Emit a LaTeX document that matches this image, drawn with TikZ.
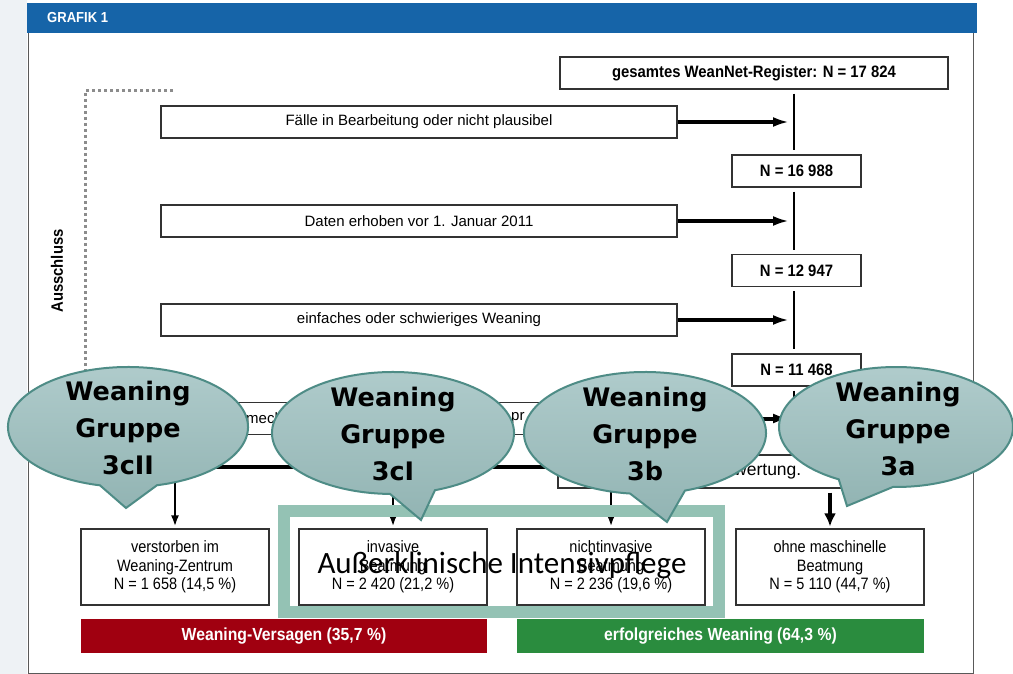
\documentclass[tikz,border=0pt]{standalone}
\usepackage{fontspec}
\setmainfont{Liberation Sans}
\newfontfamily\narrowsans[FakeStretch=0.88]{Liberation Sans}
\newfontfamily\headsans[FakeStretch=0.9]{Liberation Sans}
\newfontfamily\bubblesans{DejaVu Sans}
\newfontfamily\carlito{Carlito}
\usetikzlibrary{arrows.meta}

\definecolor{headblue}{RGB}{22,100,168}
\definecolor{failred}{RGB}{160,0,16}
\definecolor{okgreen}{RGB}{42,140,62}
\definecolor{frameteal}{RGB}{148,194,180}
\definecolor{bubbletop}{RGB}{176,204,204}
\definecolor{bubblebot}{RGB}{146,180,179}
\definecolor{bubbleline}{RGB}{78,140,134}
\definecolor{sidegray}{RGB}{238,242,245}
\definecolor{boxline}{RGB}{50,50,50}
\definecolor{dotgray}{RGB}{140,140,140}

\tikzset{
  flowbox/.style={draw=boxline, line width=1.1pt, fill=white, inner sep=0pt, minimum height=32pt},
  exclbox/.style={flowbox, minimum width=516pt, font=\fontsize{15}{18}\selectfont},
  nbox/.style={flowbox, minimum width=129pt, font=\headsans\bfseries\fontsize{16.5}{20}\selectfont},
  resbox/.style={flowbox, minimum width=188pt, minimum height=76pt, align=center,
    font=\narrowsans\fontsize{16.5}{18.5}\selectfont},
  resbar/.style={inner sep=0pt, minimum height=34pt, text=white,
    font=\headsans\bfseries\fontsize{17.5}{20}\selectfont},
  trunk/.style={line width=1.5pt, shorten <=4pt, shorten >=4pt},
  exclarrow/.style={line width=4pt, shorten >=5pt, -{Latex[length=16pt,width=10pt]}},
  downarrow/.style={line width=2.2pt, shorten >=2pt, -{Latex[length=11pt,width=8pt]}},
  bigdown/.style={line width=4.5pt, shorten <=4pt, shorten >=2pt, -{Latex[length=13pt,width=12pt]}},
  dotline/.style={draw=dotgray, line width=3pt, dash pattern=on 3pt off 3pt},
  bubble/.style={draw=bubbleline, line width=2pt, top color=bubbletop, bottom color=bubblebot},
  bubbletext/.style={align=center, inner sep=0pt, font=\bubblesans\bfseries\fontsize{25.5}{37}\selectfont},
}

\begin{document}
\begin{tikzpicture}[x=1pt, y=1pt]
\useasboundingbox (0,0) rectangle (1013,-674);

% page background and panel
\fill[sidegray] (0,0) rectangle (27,-674);
\draw[draw=gray!70!black, line width=1pt, fill=white] (28,-33) rectangle (973,-673);
\fill[headblue] (27,-3) rectangle (977,-33);
\node[anchor=west, text=white, inner sep=0pt, font=\headsans\bfseries\fontsize{14.5}{16}\selectfont] (title) at (47,-18) {GRAFIK 1};

% exclusion bracket
\draw[dotline] (173,-91) -- (85,-91) -- (85,-400);
\node[rotate=90, inner sep=0pt, font=\headsans\bfseries\fontsize{16.5}{20}\selectfont] (aussch) at (57,-271) {Ausschluss};

% main column
\coordinate (tx) at (794,0);
\node[flowbox, minimum width=388pt, font=\headsans\bfseries\fontsize{16.5}{20}\selectfont] (reg) at (754,-73) {gesamtes WeanNet-Register: N = 17 824};
\node[nbox] (n1) at (796.5,-171) {N = 16 988};
\node[nbox] (n2) at (796.5,-270.5) {N = 12 947};
\node[nbox] (n3) at (796.5,-370) {N = 11 468};

% exclusion boxes
\node[exclbox] (ex1) at (419,-122) {Fälle in Bearbeitung oder nicht plausibel};
\node[exclbox] (ex2) at (419,-221) {Daten erhoben vor 1. Januar 2011};
\node[exclbox] (ex3) at (419,-320) {einfaches oder schwieriges Weaning};
\node[exclbox] (ex4) at (419,-418.5) {};
\node[anchor=west, inner sep=0pt, font=\fontsize{15}{18}\selectfont] (ex4a) at (246,-418.5) {mech};
\node[anchor=west, inner sep=0pt, font=\fontsize{15}{18}\selectfont] (ex4b) at (511,-418.5) {pr};

% trunk segments
\draw[trunk] (reg.south -| tx) -- (n1.north -| tx);
\draw[trunk] (n1.south -| tx) -- (n2.north -| tx);
\draw[trunk] (n2.south -| tx) -- (n3.north -| tx);

% exclusion arrows
\draw[exclarrow] (ex1.east) -- (ex1.east -| tx);
\draw[exclarrow] (ex2.east) -- (ex2.east -| tx);
\draw[exclarrow] (ex3.east) -- (ex3.east -| tx);
\draw[exclarrow] (ex4.east) -- (ex4.east -| tx);

% outcome boxes
\node[resbox] (r1) at (175,-567) {verstorben im\\Weaning-Zentrum\\N = 1 658 (14,5 \%)};
\node[resbox] (r2) at (393,-567) {invasive\\Beatmung\\N = 2 420 (21,2 \%)};
\node[resbox] (r3) at (611,-567) {nichtinvasive\\Beatmung\\N = 2 236 (19,6 \%)};
\node[resbox] (r4) at (830,-567) {ohne maschinelle\\Beatmung\\N = 5 110 (44,7 \%)};

% distribution line and arrows
\coordinate (split) at (0,-467);
\draw[line width=3.5pt] (split -| r1.north) -- (split -| r3.north);
\draw[downarrow] (split -| r1.north) -- (r1.north);
\draw[downarrow] (split -| r2.north) -- (r2.north);
\draw[downarrow] (split -| r3.north) -- (r3.north);

% analysed cases box
\node[flowbox, minimum width=302pt, minimum height=33pt] (aus) at (709,-471.5) {};
\node[anchor=west, inner sep=0pt, font=\fontsize{17.5}{20}\selectfont] (austxt) at (734,-471.5) {wertung.};
\draw[trunk] (n3.south -| tx) -- (aus.north -| tx);
\draw[bigdown] (aus.south -| r4.north) -- (r4.north);

% result bars
\node[resbar, fill=failred, minimum width=406pt] (fail) at (284,-636) {Weaning-Versagen (35,7 \%)};
\node[resbar, fill=okgreen, minimum width=407pt] (ok) at (720.5,-636) {erfolgreiches Weaning (64,3 \%)};

% out-of-hospital intensive care frame
\draw[draw=frameteal, line width=12pt] (284,-511) rectangle (719,-612);
\node[anchor=base, inner sep=0pt, font=\carlito\fontsize{31}{36}\selectfont] (aik) at (502,-573) {Außerklinische Intensivpflege};

% group callouts
\path[bubble] (128,-427) ++(284:120 and 60)
  arc[start angle=284, end angle=616.5, x radius=120pt, y radius=60pt] -- (126,-508) -- cycle;
\node[bubbletext] (g3cii) at (128,-428) {Weaning\\Gruppe\\3cII};

\path[bubble] (393,-433) ++(290.3:121 and 61)
  arc[start angle=290.3, end angle=628.6, x radius=121pt, y radius=61pt] -- (421,-520) -- cycle;
\node[bubbletext] (g3ci) at (393,-434) {Weaning\\Gruppe\\3cI};

\path[bubble] (645,-433) ++(289.3:121 and 61)
  arc[start angle=289.3, end angle=622.9, x radius=121pt, y radius=61pt] -- (667,-522) -- cycle;
\node[bubbletext] (g3b) at (645,-434) {Weaning\\Gruppe\\3b};

\path[bubble] (896,-427) ++(268.5:117 and 60)
  arc[start angle=268.5, end angle=600.7, x radius=117pt, y radius=60pt] -- (847,-506) -- cycle;
\node[bubbletext] (g3a) at (898,-429) {Weaning\\Gruppe\\3a};
\end{tikzpicture}
\end{document}
